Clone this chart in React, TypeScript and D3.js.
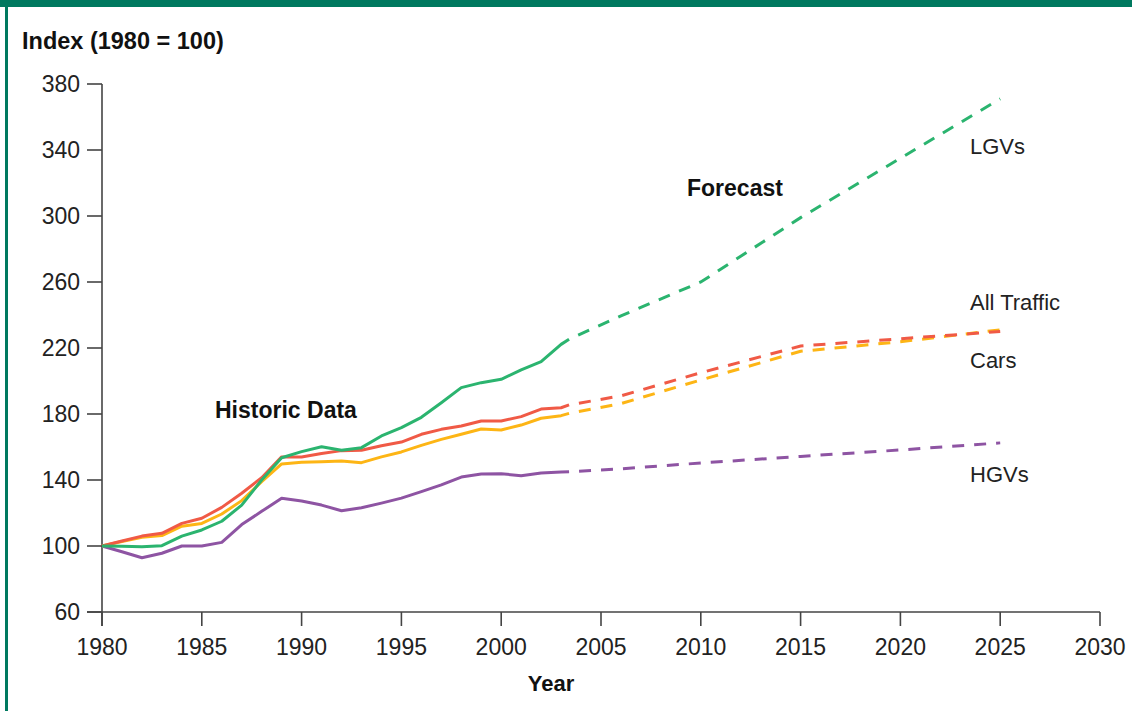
import React from "react";
import * as d3 from "d3";

const W = 1132;
const H = 711;

const histYears = [1980, 1981, 1982, 1983, 1984, 1985, 1986, 1987, 1988, 1989, 1990, 1991, 1992, 1993, 1994, 1995, 1996, 1997, 1998, 1999, 2000, 2001, 2002, 2003, 2003.4];
const lgvHist = [100, 99.8, 99.6, 100.2, 106, 109.7, 115, 124.8, 140, 153.5, 157.2, 160.2, 158, 159.6, 166.7, 171.7, 178, 186.8, 196, 199, 201, 206.7, 211.7, 222.2, 225.3];
const allHist = [100, 103, 106, 107.7, 113.7, 116.8, 123.4, 132, 141.4, 154, 154, 156, 157.8, 158, 160.8, 163, 167.7, 170.7, 172.7, 175.8, 175.8, 178.4, 183, 183.8, 185.5];
const carsHist = [100, 102.7, 105.3, 106.3, 112, 113.7, 119.4, 127.5, 139, 149.7, 150.7, 151, 151.5, 150.5, 154, 157, 161, 164.6, 167.7, 170.9, 170.3, 173.3, 177.4, 179, 180.4];
const hgvHist = [100, 96.5, 92.9, 95.6, 100, 100, 102.2, 113, 121, 128.9, 127.3, 124.8, 121.4, 123.2, 126, 129, 133, 137, 141.8, 143.6, 143.8, 142.6, 144.2, 144.8, 145];

const foreYears = [2003.4, 2006, 2010, 2015, 2020, 2025];
const lgvFore = [225.3, 239.5, 260, 299, 335, 371];
const allFore = [185.5, 191, 205, 221.2, 225.6, 230];
const carsFore = [180.4, 186.3, 200.6, 218, 223.8, 231];
const hgvFore = [145, 146.8, 150.3, 154.3, 158.2, 162.5];

const xTicks = [1980, 1985, 1990, 1995, 2000, 2005, 2010, 2015, 2020, 2025, 2030];
const yTicks = [60, 100, 140, 180, 220, 260, 300, 340, 380];

const series = [
  { name: "HGVs", color: "#8e54a3", hist: hgvHist, fore: hgvFore, labelY: 482 },
  { name: "Cars", color: "#fdb515", hist: carsHist, fore: carsFore, labelY: 368 },
  { name: "All Traffic", color: "#f05a46", hist: allHist, fore: allFore, labelY: 310 },
  { name: "LGVs", color: "#2bb46f", hist: lgvHist, fore: lgvFore, labelY: 154 },
];

const x = d3.scaleLinear().domain([1980, 2030]).range([102, 1100]);
const y = d3.scaleLinear().domain([60, 380]).range([612, 84]);

const FONT = "'Liberation Sans', Arial, Helvetica, sans-serif";

export default function App() {
  const line = d3
    .line<[number, number]>()
    .x((d) => x(d[0]))
    .y((d) => y(d[1]));

  return (
    <div style={{ position: "absolute", left: 0, top: 0 }}>
      <svg width={W} height={H} style={{ display: "block", fontFamily: FONT }}>
        <rect x={0} y={0} width={W} height={H} fill="#ffffff" />
        <rect x={0} y={0} width={W} height={7} fill="#00795f" />
        <rect x={5} y={0} width={3} height={H} fill="#00795f" />

        <text x={22} y={49} fontSize={23.5} fontWeight="bold" fill="#111">
          Index (1980 = 100)
        </text>

        {/* y axis */}
        <line x1={x(1980)} x2={x(1980)} y1={y(380)} y2={626} stroke="#444" strokeWidth={1.6} />
        {yTicks.map((t) => (
          <g key={"y" + t}>
            <line x1={87} x2={x(1980)} y1={y(t)} y2={y(t)} stroke="#444" strokeWidth={1.6} />
            <text x={80} y={y(t)} dy="0.35em" textAnchor="end" fontSize={23} fill="#222">
              {t}
            </text>
          </g>
        ))}

        {/* x axis */}
        <line x1={87} x2={x(2030)} y1={y(60)} y2={y(60)} stroke="#444" strokeWidth={1.6} />
        {xTicks.map((t) => (
          <g key={"x" + t}>
            <line x1={x(t)} x2={x(t)} y1={y(60)} y2={626} stroke="#444" strokeWidth={1.6} />
            <text x={x(t)} y={655} textAnchor="middle" fontSize={23} fill="#222">
              {t}
            </text>
          </g>
        ))}
        <text x={(x(2000) + x(2005)) / 2} y={691} textAnchor="middle" fontSize={22} fontWeight="bold" fill="#111">
          Year
        </text>

        {series.map((s) => {
          const hist = histYears.map((yr, i) => [yr, s.hist[i]] as [number, number]);
          const fore = foreYears.map((yr, i) => [yr, s.fore[i]] as [number, number]);
          return (
            <g key={s.name}>
              <path d={line(hist) || ""} fill="none" stroke={s.color} strokeWidth={3} strokeLinejoin="round" />
              <path
                d={line(fore) || ""}
                fill="none"
                stroke={s.color}
                strokeWidth={3}
                strokeDasharray="12,10"
                strokeDashoffset={-10}
              />
            </g>
          );
        })}

        {series.map((s) => (
          <text key={"l" + s.name} x={970} y={s.labelY} fontSize={22} fill="#222">
            {s.name}
          </text>
        ))}

        <text x={215} y={418} fontSize={23} fontWeight="bold" fill="#111">
          Historic Data
        </text>
        <text x={687} y={196} fontSize={23} fontWeight="bold" fill="#111">
          Forecast
        </text>
      </svg>
    </div>
  );
}
